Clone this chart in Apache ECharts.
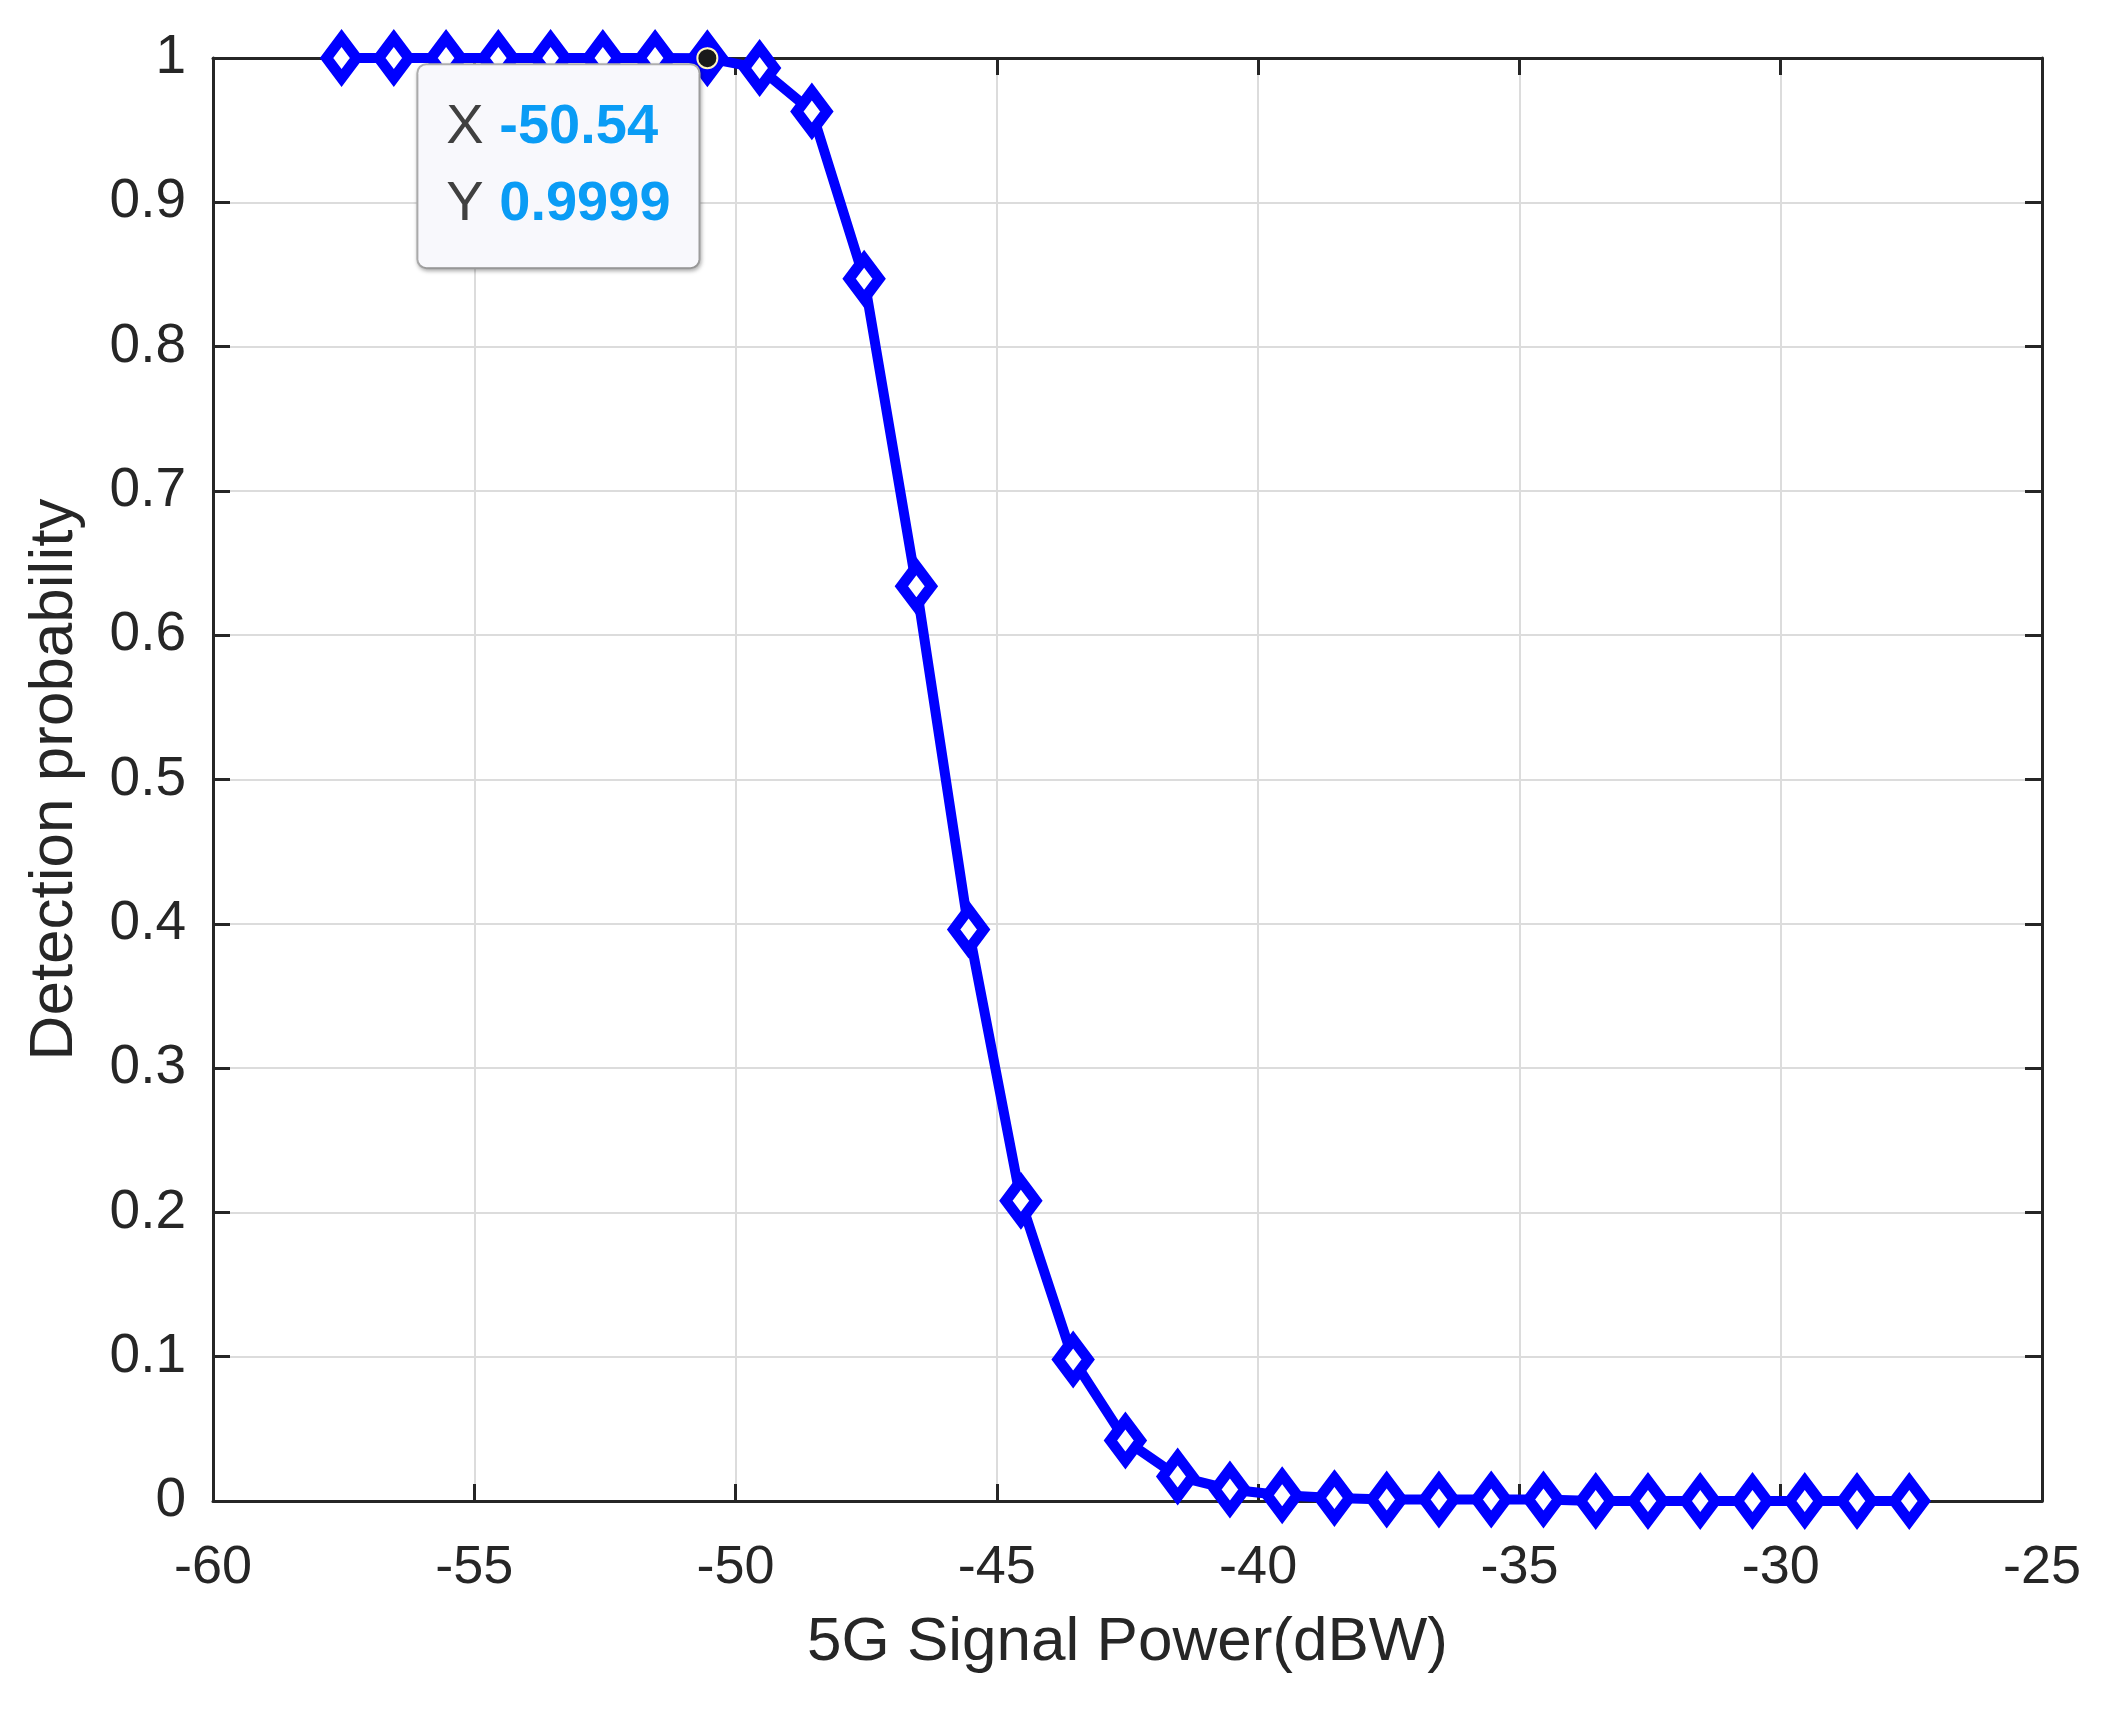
<!DOCTYPE html>
<html>
<head>
<meta charset="utf-8">
<script src="https://cdn.jsdelivr.net/npm/echarts@6/dist/echarts.min.js"></script>
<style>
html,body{margin:0;padding:0;background:#fff;}
#chart{width:2111px;height:1713px;}
</style>
</head>
<body>
<div id="chart"></div>
<script>
// ---- Data ----
const signalPower = [-57.54, -56.54, -55.54, -54.54, -53.54, -52.54, -51.54, -50.54,
  -49.54, -48.54, -47.54, -46.54, -45.54, -44.54, -43.54, -42.54, -41.54, -40.54,
  -39.54, -38.54, -37.54, -36.54, -35.54, -34.54, -33.54, -32.54, -31.54, -30.54,
  -29.54, -28.54, -27.54];
const detectionProb = [1, 1, 1, 1, 1, 1, 1, 0.9999,
  0.993, 0.963, 0.847, 0.634, 0.396, 0.208, 0.098, 0.042, 0.017, 0.008,
  0.004, 0.002, 0.001, 0.001, 0.001, 0.001, 0, 0, 0, 0,
  0, 0, 0];
const tipX = -50.54;
const tipY = 0.9999;
const xTitle = '5G Signal Power(dBW)';
const yTitle = 'Detection probability';

const FONT = '"Liberation Sans", Arial, Helvetica, sans-serif';
const TXT = '#262626';

const chart = echarts.init(document.getElementById('chart'), null, {renderer: 'canvas'});

const axisCommon = {
  axisLine: {show: true, onZero: false, lineStyle: {color: TXT, width: 3}},
  axisTick: {show: true, inside: true, length: 17, lineStyle: {color: TXT, width: 3}},
};

chart.setOption({
  backgroundColor: '#ffffff',
  animation: false,
  grid: {left: 213, right: 69, top: 58, bottom: 212, containLabel: false},
  xAxis: [
    Object.assign({
      type: 'value', min: -60, max: -25, interval: 5, position: 'bottom',
      name: xTitle, nameLocation: 'middle', nameGap: 111,
      nameTextStyle: {fontFamily: FONT, fontSize: 62, color: TXT},
      axisLabel: {fontFamily: FONT, fontSize: 54, color: TXT, margin: 40},
      splitLine: {show: true, lineStyle: {color: '#dcdcdc', width: 2}}
    }, axisCommon),
    Object.assign({
      type: 'value', min: -60, max: -25, interval: 5, position: 'top',
      axisLabel: {show: false}, splitLine: {show: false}
    }, axisCommon)
  ],
  yAxis: [
    Object.assign({
      type: 'value', min: 0, max: 1, interval: 0.1, position: 'left',
      name: yTitle, nameLocation: 'middle', nameGap: 127, nameRotate: 90,
      nameTextStyle: {fontFamily: FONT, fontSize: 62, color: TXT},
      axisLabel: {fontFamily: FONT, fontSize: 55, color: TXT, margin: 27},
      splitLine: {show: true, lineStyle: {color: '#dcdcdc', width: 2}}
    }, axisCommon),
    Object.assign({
      type: 'value', min: 0, max: 1, interval: 0.1, position: 'right',
      axisLabel: {show: false}, splitLine: {show: false}
    }, axisCommon)
  ],
  series: [{
    type: 'line',
    xAxisIndex: 0, yAxisIndex: 0,
    data: signalPower.map((x, i) => [x, detectionProb[i]]),
    clip: false,
    symbol: 'diamond',
    symbolSize: [30, 40],
    lineStyle: {color: '#0000ff', width: 10},
    itemStyle: {color: '#ffffff', borderColor: '#0000ff', borderWidth: 11},
    z: 3,
    markPoint: {
      z: 10,
      symbol: 'circle',
      symbolSize: 20,
      itemStyle: {color: '#1a1a1a', borderColor: '#fff4c0', borderWidth: 2},
      data: [{coord: [tipX, tipY]}],
      label: {
        show: true,
        position: [-278, 18],
        align: 'left',
        verticalAlign: 'top',
        fontFamily: FONT,
        fontSize: 56,
        formatter: '{k|X} {v|' + tipX.toFixed(2) + '}\n{k|Y} {v|' + tipY.toFixed(4) + '}',
        backgroundColor: '#f8f8fc',
        borderColor: '#b4b4b4',
        borderWidth: 2,
        borderRadius: 8,
        padding: [24, 28, 24, 28],
        shadowColor: 'rgba(0,0,0,0.25)',
        shadowBlur: 4,
        shadowOffsetX: 1,
        shadowOffsetY: 2,
        rich: {
          k: {fontFamily: FONT, fontSize: 56, color: '#404040', lineHeight: 77},
          v: {fontFamily: FONT, fontSize: 56, fontWeight: 'bold', color: '#0a9cf5', lineHeight: 77}
        }
      }
    }
  }]
});
</script>
</body>
</html>
